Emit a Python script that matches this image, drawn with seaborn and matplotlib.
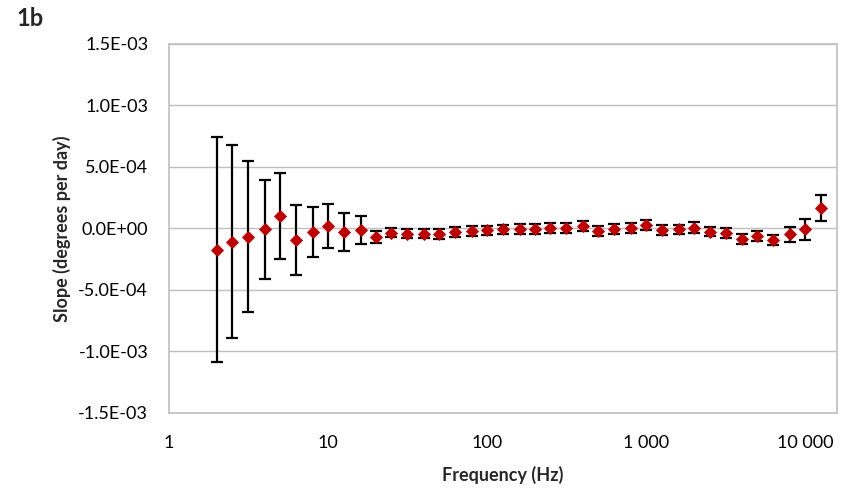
import numpy as np
import pandas as pd
import matplotlib
matplotlib.use("Agg")
import matplotlib.pyplot as plt
import seaborn as sns
from matplotlib.ticker import FixedLocator, FuncFormatter, NullLocator

freq_hz = [2, 2.5, 3.15, 4, 5, 6.3, 8, 10, 12.5, 16, 20, 25, 31.5, 40, 50, 63, 80,
           100, 125, 160, 200, 250, 315, 400, 500, 630, 800, 1000, 1250, 1600,
           2000, 2500, 3150, 4000, 5000, 6300, 8000, 10000, 12500]
# slope and its error, in units of 1e-4 degrees per day
slope = [-1.71, -1.09, -0.68, -0.08, 1.00, -0.92, -0.27, 0.22, -0.27, -0.16, -0.68,
         -0.35, -0.41, -0.41, -0.43, -0.27, -0.22, -0.16, -0.08, -0.05, -0.05, 0.03,
         0.05, 0.19, -0.19, -0.02, 0.03, 0.27, -0.11, -0.08, 0.08, -0.27, -0.35,
         -0.84, -0.62, -0.92, -0.46, -0.08, 1.68]
slope_err = [9.15, 7.85, 6.15, 4.03, 3.49, 2.84, 2.02, 1.79, 1.52, 1.14, 0.50,
             0.35, 0.38, 0.38, 0.40, 0.40, 0.40, 0.40, 0.40, 0.40, 0.40, 0.40,
             0.40, 0.41, 0.40, 0.41, 0.41, 0.41, 0.40, 0.39, 0.41, 0.38, 0.41,
             0.42, 0.39, 0.43, 0.60, 0.82, 1.07]
x_ticks = [1, 10, 100, 1000, 10000]
y_ticks = [-1.5e-3, -1.0e-3, -5.0e-4, 0.0, 5.0e-4, 1.0e-3, 1.5e-3]

df = pd.DataFrame({
    "freq": freq_hz,
    "slope": np.array(slope) * 1e-4,
    "err": np.array(slope_err) * 1e-4,
})

sns.set_style("white")
plt.rcParams["font.family"] = ["Lato", "DejaVu Sans"]

fig = plt.figure(figsize=(8.51, 4.92), dpi=100)
ax = fig.add_axes([0.1986, 0.1606, 0.7849, 0.75])

ax.errorbar(df["freq"], df["slope"], yerr=df["err"], fmt="none",
            ecolor="black", elinewidth=1.6, capsize=4.5, capthick=1.6, zorder=2)
sns.scatterplot(data=df, x="freq", y="slope", marker="D", color="#C00000",
                s=45, edgecolor="#C00000", linewidth=0, ax=ax, zorder=3)

ax.set_xscale("log")
ax.set_xlim(1, 15800)
ax.set_ylim(-1.5e-3, 1.5e-3)
ax.xaxis.set_major_locator(FixedLocator(x_ticks))
ax.xaxis.set_minor_locator(NullLocator())
ax.xaxis.set_major_formatter(FuncFormatter(lambda v, p: f"{int(round(v)):,}".replace(",", " ")))
ax.yaxis.set_major_locator(FixedLocator(y_ticks))
ax.yaxis.set_major_formatter(FuncFormatter(lambda v, p: f"{v:.1E}"))

ax.grid(axis="y", color="#BFBFBF", linewidth=1.0)
ax.grid(axis="x", visible=False)
ax.set_axisbelow(True)
for sp in ax.spines.values():
    sp.set_color("#BFBFBF")
    sp.set_linewidth(1.2)
ax.tick_params(axis="both", length=0, labelsize=13, colors="black")
ax.tick_params(axis="y", pad=15)
ax.tick_params(axis="x", pad=16)

ax.set_xlabel("Frequency (Hz)", fontsize=13, fontweight="bold")
ax.set_ylabel("Slope (degrees per day)", fontsize=13, fontweight="bold")
ax.xaxis.set_label_coords(0.5, -0.143)
ax.yaxis.set_label_coords(-0.146, 0.5)
fig.text(0.019, 0.985, "1b", fontsize=17, fontweight="bold", va="top", ha="left")

fig.savefig("out.png", dpi=100)
